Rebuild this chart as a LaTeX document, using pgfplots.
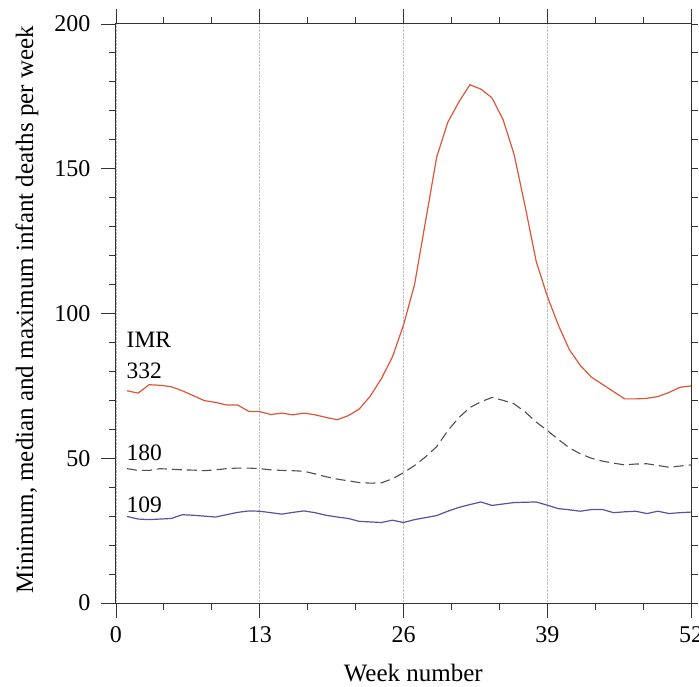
\documentclass[border=0pt]{standalone}
\usepackage{fontspec}
\setmainfont{Liberation Serif}
\usepackage{pgfplots}
\pgfplotsset{compat=1.18}
\definecolor{maxred}{RGB}{222,86,56}
\definecolor{minblue}{RGB}{92,80,160}
\definecolor{medgray}{RGB}{80,80,80}
\begin{document}
\begin{tikzpicture}[font=\fontsize{24}{28}\selectfont]
\begin{axis}[
  scale only axis, width=575pt, height=579pt,
  xmin=0, xmax=52, ymin=0, ymax=200,
  xtick={0,13,26,39,52}, minor x tick num=2,
  ytick={0,50,100,150,200}, minor y tick num=4,
  tick align=outside, xtick pos=both, ytick pos=left,
  major tick length=15pt, minor tick length=7pt,
  axis line style={line width=1pt, color=black!80},
  every tick/.style={black!80, line width=0.9pt},
  xmajorgrids, major grid style={gray!50, densely dotted, line width=0.6pt},
  /pgf/number format/assume math mode=true,
  ticklabel style={font=\fontsize{24}{28}\selectfont},
  xticklabel style={yshift=-5pt},
  yticklabel style={xshift=-7pt},
  xlabel={Week number},
  xlabel style={at={(axis description cs:0.517,0)}, anchor=center, yshift=-70pt, font=\fontsize{25}{29}\selectfont},
  ylabel={Minimum, median and maximum infant deaths per week},
  ylabel style={at={(axis description cs:-0.155,0.506)}, anchor=center, font=\fontsize{25}{29}\selectfont},
  clip=false,
]
\addplot[maxred, line width=1.2pt] coordinates {
(1,73.3) (2,72.5) (3,75.4) (4,75.2) (5,74.7) (6,73.3) (7,71.6) (8,69.9) (9,69.3) (10,68.4)
(11,68.4) (12,66.2) (13,66.1) (14,65.1) (15,65.6) (16,65.0) (17,65.6) (18,65.0) (19,64.1) (20,63.3)
(21,64.7) (22,67.0) (23,71.5) (24,77.5) (25,85) (26,96) (27,110) (28,132) (29,154) (30,166)
(31,173) (32,179) (33,177.5) (34,174.5) (35,167) (36,155) (37,137) (38,118) (39,106) (40,96)
(41,87.5) (42,82) (43,78) (44,75.5) (45,73) (46,70.5) (47,70.5) (48,70.7) (49,71.3) (50,72.7)
(51,74.5) (52,75)
};
\addplot[medgray, line width=1.1pt, dash pattern=on 10pt off 5pt] coordinates {
(1,46.4) (2,45.8) (3,45.8) (4,46.4) (5,46.2) (6,46.0) (7,45.9) (8,45.7) (9,46.0) (10,46.4)
(11,46.6) (12,46.6) (13,46.4) (14,46.0) (15,45.8) (16,45.7) (17,45.5) (18,44.6) (19,43.6) (20,42.8)
(21,42.2) (22,41.6) (23,41.4) (24,41.5) (25,42.9) (26,45) (27,47.5) (28,50.5) (29,54) (30,59.5)
(31,64) (32,67.5) (33,69.5) (34,71) (35,70) (36,68.8) (37,66) (38,62.5) (39,59.6) (40,56.5)
(41,53.6) (42,51.5) (43,50) (44,49) (45,48.3) (46,47.7) (47,48) (48,48.1) (49,47.5) (50,46.9)
(51,47.3) (52,47.7)
};
\addplot[minblue, line width=1.2pt] coordinates {
(1,29.9) (2,29.0) (3,28.8) (4,29.0) (5,29.2) (6,30.5) (7,30.3) (8,30.0) (9,29.7) (10,30.5)
(11,31.3) (12,31.8) (13,31.7) (14,31.2) (15,30.7) (16,31.3) (17,31.8) (18,31.2) (19,30.3) (20,29.7)
(21,29.2) (22,28.2) (23,28.0) (24,27.8) (25,28.6) (26,27.8) (27,28.8) (28,29.5) (29,30.2) (30,31.7)
(31,33.0) (32,34.0) (33,34.9) (34,33.7) (35,34.2) (36,34.7) (37,34.8) (38,34.9) (39,33.8) (40,32.6)
(41,32.2) (42,31.7) (43,32.3) (44,32.3) (45,31.2) (46,31.5) (47,31.7) (48,30.9) (49,31.7) (50,30.9)
(51,31.2) (52,31.4)
};
\node[anchor=base west, inner sep=0pt, font=\fontsize{23.5}{27}\selectfont] at (axis cs:0.95,88.1) {IMR};
\node[anchor=base west, inner sep=0pt, font=\fontsize{23.5}{27}\selectfont] at (axis cs:0.95,77.5) {332};
\node[anchor=base west, inner sep=0pt, font=\fontsize{23.5}{27}\selectfont] at (axis cs:0.95,49.2) {180};
\node[anchor=base west, inner sep=0pt, font=\fontsize{23.5}{27}\selectfont] at (axis cs:0.95,31.3) {109};
\end{axis}
\begin{axis}[
  scale only axis, width=575pt, height=579pt,
  xmin=0, xmax=52, ymin=0, ymax=200,
  axis x line=none, axis y line*=right,
  ytick={0,10,...,200}, yticklabels={},
  tick align=outside, major tick length=7pt,
  axis line style={line width=1pt, color=black!80},
  every tick/.style={black!80, line width=0.9pt},
]
\end{axis}
\pgfresetboundingbox
\path ([xshift=-116pt,yshift=-83pt]current axis.south west) rectangle ([xshift=8pt,yshift=24pt]current axis.north east);
\end{tikzpicture}
\end{document}
